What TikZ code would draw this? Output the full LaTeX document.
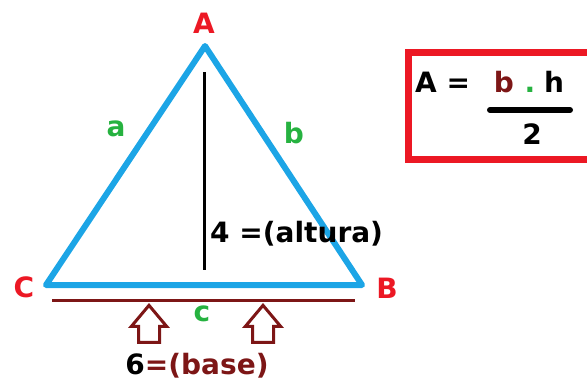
\documentclass[tikz,border=0pt]{standalone}
\usepackage{fontspec}
\setmainfont{DejaVu Sans}
\usepackage{xcolor}
\usetikzlibrary{arrows.meta,positioning,shapes.arrows}
\definecolor{sideblue}{RGB}{28,165,230}
\definecolor{vertred}{RGB}{236,24,36}
\definecolor{basered}{RGB}{125,22,22}
\definecolor{sidegreen}{RGB}{38,178,64}

\begin{document}
\begin{tikzpicture}[x=1pt, y=-1pt,
  vlabel/.style={text=vertred, font=\bfseries\fontsize{28}{28}\selectfont, inner sep=0pt},
  slabel/.style={text=sidegreen, font=\bfseries\fontsize{28}{28}\selectfont, inner sep=0pt},
  tlabel/.style={font=\bfseries\fontsize{28}{28}\selectfont, inner sep=0pt},
  side/.style={draw=sideblue, line width=6pt, line join=round},
  uparrow/.style={single arrow, draw=basered, fill=white, line width=3pt,
                  shape border rotate=90, single arrow tip angle=80,
                  minimum height=37pt, minimum width=32pt, inner sep=9pt}
]
  \useasboundingbox (0,0) rectangle (587,383);

  % triangle
  \coordinate (A) at (205,46);
  \coordinate (B) at (362,285);
  \coordinate (C) at (46,285);
  \draw[side] (A) -- (B) -- (C) -- cycle;

  % vertices and sides
  \node[vlabel] (la) at (204,23) {A};
  \node[vlabel] (lb) at (387,288) {B};
  \node[vlabel] (lc) at (24,287) {C};
  \node[slabel] (sa) at (116,129) {a};
  \node[slabel] (sb) at (294,133) {b};
  \node[slabel] (sc) at (202,314) {c};

  % height
  \coordinate (htop) at (204,72);
  \coordinate (hbot) at (204,270);
  \draw[line width=3pt] (htop) -- (hbot);
  \node[tlabel, anchor=west] (alt) at (210,234) {4 =(altura)};

  % base
  \coordinate (bl) at (52,300);
  \coordinate (br) at (355,300);
  \draw[basered, line width=3pt] (bl) -- (br);
  \node[uparrow, anchor=tip] (arr1) at (149,303) {};
  \node[uparrow, anchor=tip] (arr2) at (263,303) {};
  \node[tlabel, text=basered] (bas) at (197,366) {\textcolor{black}{6}=(base)};

  % formula
  \draw[vertred, line width=7pt] (408,52) rectangle (600,159);
  \node[tlabel, anchor=base west] (fa) at (415,92) {A =};
  \node[tlabel, text=basered, anchor=base] (fb) at (504,92) {b};
  \node[tlabel, text=sidegreen, anchor=base] (fdot) at (530,92) {.};
  \node[tlabel, anchor=base] (fh) at (554,92) {h};
  \draw[line width=6pt, line cap=round] (490,110) -- (570,110);
  \node[tlabel] (f2) at (532,134) {2};
\end{tikzpicture}
\end{document}
